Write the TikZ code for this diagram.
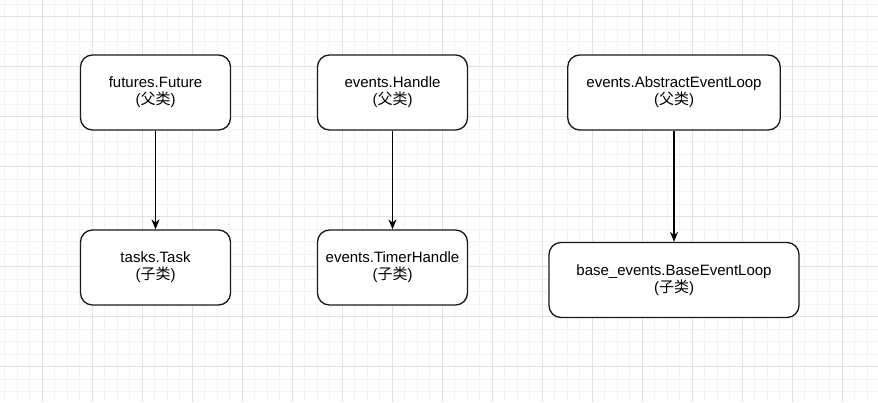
\documentclass[tikz,border=0pt]{standalone}
\usepackage{fontspec}
\setmainfont{Liberation Sans}
\newfontfamily\cjk{Noto Sans CJK SC}
\usetikzlibrary{arrows.meta}

\definecolor{gridminor}{HTML}{F3F3F3}
\definecolor{gridmajor}{HTML}{E2E2E2}
\definecolor{boxline}{HTML}{1A1A1A}

\begin{document}
\begin{tikzpicture}[x=1pt, y=-1pt,
    classbox/.style={draw=boxline, line width=1.3pt, rounded corners=12pt,
        fill=white, minimum height=75pt, align=center,
        font=\fontsize{15}{17}\selectfont},
    inherit/.style={draw=black, line width=1.3pt, -{Stealth[length=10pt, width=8pt]}}]

    \useasboundingbox (0,0) rectangle (878,402);
    \fill[white] (0,0) rectangle (878,402);

    % background grid
    \foreach \gx in {0,...,70} {
        \draw[gridminor, line width=0.8pt] (4.8+12.5*\gx,0) -- (4.8+12.5*\gx,402);
    }
    \foreach \gy in {0,...,32} {
        \draw[gridminor, line width=0.8pt] (0,4.2+12.5*\gy) -- (878,4.2+12.5*\gy);
    }
    \foreach \gx in {0,...,17} {
        \draw[gridmajor, line width=0.9pt] (42.3+50*\gx,0) -- (42.3+50*\gx,402);
    }
    \foreach \gy in {0,...,8} {
        \draw[gridmajor, line width=0.9pt] (0,16.7+50*\gy) -- (878,16.7+50*\gy);
    }

    % parent classes
    \node[classbox, minimum width=150pt] (future) at (155.5,92.5) {futures.Future\\({\cjk 父类})};
    \node[classbox, minimum width=150pt] (handle) at (392.5,92.5) {events.Handle\\({\cjk 父类})};
    \node[classbox, minimum width=212.5pt] (abstractloop) at (674,92.5) {events.AbstractEventLoop\\({\cjk 父类})};

    % child classes
    \node[classbox, minimum width=150pt] (task) at (155.5,267.5) {tasks.Task\\({\cjk 子类})};
    \node[classbox, minimum width=150pt] (timerhandle) at (392.5,267.5) {events.TimerHandle\\({\cjk 子类})};
    \node[classbox, minimum width=250pt] (baseloop) at (674,280) {base\_events.BaseEventLoop\\({\cjk 子类})};

    \draw[inherit] (future) -- (task);
    \draw[inherit] (handle) -- (timerhandle);
    \draw[inherit] (abstractloop) -- (baseloop);

\end{tikzpicture}
\end{document}
